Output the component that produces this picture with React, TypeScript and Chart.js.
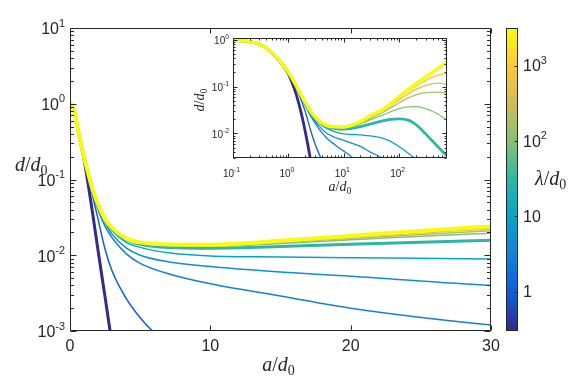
import React, { useEffect, useRef } from "react";
import { Chart, registerables } from "chart.js";

Chart.register(...registerables);

// ---------------- data ----------------
const aValues = [0, 0.1, 0.2, 0.3, 0.4, 0.6, 0.8, 1, 1.3, 1.6, 2, 2.5, 3, 4, 5, 7, 10, 15, 20, 30, 50, 70, 100, 150, 200, 300, 500, 730];

const lambdaValues = [0.31, 1, 3, 5, 10, 30, 100, 200, 500, 1000, 3200];

const dLambda0p31 = [1, 0.97, 0.9, 0.8, 0.66, 0.42, 0.28, 0.185, 0.085, 0.037, 0.0115, 0.0028, 0.00066, null, null, null, null, null, null, null, null, null, null, null, null, null, null, null];
const dLambda1 = [1, 0.97, 0.9, 0.8, 0.66, 0.43, 0.285, 0.19, 0.105, 0.062, 0.03, 0.012, 0.0062, 0.0027, 0.0015, 0.00062, null, null, null, null, null, null, null, null, null, null, null, null];
const dLambda3 = [1, 0.97, 0.9, 0.8, 0.66, 0.43, 0.29, 0.195, 0.115, 0.068, 0.04, 0.024, 0.017, 0.0105, 0.0078, 0.0057, 0.0042, 0.0029, 0.002, 0.0012, 0.0006, null, null, null, null, null, null, null];
const dLambda5 = [1, 0.97, 0.9, 0.8, 0.66, 0.43, 0.29, 0.2, 0.118, 0.07, 0.042, 0.027, 0.019, 0.0125, 0.01, 0.0082, 0.0071, 0.006, 0.0053, 0.004, 0.003, 0.0022, 0.0015, null, null, null, null, null];
const dLambda10 = [1, 0.97, 0.9, 0.8, 0.66, 0.43, 0.29, 0.2, 0.12, 0.072, 0.045, 0.029, 0.021, 0.0148, 0.0127, 0.0108, 0.0098, 0.0095, 0.0093, 0.0089, 0.008, 0.0068, 0.0052, 0.0037, 0.0028, 0.0017, null, null];
const dLambda30 = [1, 0.97, 0.9, 0.8, 0.66, 0.43, 0.29, 0.2, 0.12, 0.073, 0.046, 0.03, 0.022, 0.016, 0.014, 0.0127, 0.0124, 0.013, 0.014, 0.0158, 0.0185, 0.02, 0.0205, 0.019, 0.0155, 0.0098, 0.0052, 0.0033];
const dLambda100 = [1, 0.97, 0.9, 0.8, 0.66, 0.43, 0.29, 0.2, 0.12, 0.074, 0.047, 0.03, 0.0225, 0.0163, 0.0145, 0.0133, 0.0131, 0.0143, 0.016, 0.0195, 0.0245, 0.029, 0.034, 0.037, 0.0372, 0.034, 0.026, 0.019];
const dLambda200 = [1, 0.97, 0.9, 0.8, 0.66, 0.43, 0.29, 0.2, 0.12, 0.075, 0.047, 0.03, 0.0227, 0.0165, 0.0146, 0.0135, 0.0133, 0.0147, 0.0168, 0.021, 0.028, 0.035, 0.045, 0.058, 0.066, 0.074, 0.076, 0.071];
const dLambda500 = [1, 0.97, 0.9, 0.8, 0.66, 0.43, 0.29, 0.2, 0.12, 0.075, 0.047, 0.03, 0.0228, 0.0166, 0.0147, 0.0137, 0.0135, 0.015, 0.0172, 0.0222, 0.03, 0.039, 0.052, 0.071, 0.087, 0.105, 0.118, 0.11];
const dLambda1000 = [1, 0.97, 0.9, 0.8, 0.66, 0.43, 0.29, 0.2, 0.12, 0.075, 0.047, 0.03, 0.0229, 0.0166, 0.0147, 0.0138, 0.0136, 0.0152, 0.0175, 0.023, 0.031, 0.041, 0.057, 0.08, 0.1, 0.135, 0.175, 0.19];
const dLambda3200 = [1, 0.97, 0.9, 0.8, 0.66, 0.43, 0.29, 0.2, 0.12, 0.075, 0.047, 0.03, 0.023, 0.0167, 0.0148, 0.0139, 0.0138, 0.0155, 0.018, 0.024, 0.032, 0.043, 0.061, 0.088, 0.113, 0.16, 0.24, 0.33];

const curveValues = [dLambda0p31, dLambda1, dLambda3, dLambda5, dLambda10, dLambda30, dLambda100, dLambda200, dLambda500, dLambda1000, dLambda3200];
const thickLambdas = [0.31, 30, 3200];

const colorbarRange = [0.31, 3200];
const colorbarTicks = [1, 10, 100, 1000];
const mainXRange = [0, 30];
const mainYRange = [1e-3, 10];
const mainXTicks = [0, 10, 20, 30];
const mainYTickExps = [-3, -2, -1, 0, 1];
const insetXRange = [0.1, 730];
const insetYRange = [0.003, 1.08];
const insetXTickExps = [-1, 0, 1, 2];
const insetYTickExps = [-2, -1, 0];

// ---------------- styling helpers ----------------
const AXIS = "#262626";
const SANS = "'Liberation Sans', Arial, Helvetica, sans-serif";
const SERIF = "'Liberation Serif', 'DejaVu Serif', serif";
const PARULA = ["#352A87", "#0F5CDD", "#1481D6", "#06A4CA", "#2EB7A4", "#87BF77", "#D1BB59", "#FEC832", "#F9FB0E"];

function hexRgb(h: string) {
  return [parseInt(h.slice(1, 3), 16), parseInt(h.slice(3, 5), 16), parseInt(h.slice(5, 7), 16)];
}
function parula(t: number) {
  const tt = Math.max(0, Math.min(1, t));
  const s = tt * (PARULA.length - 1);
  const i = Math.min(PARULA.length - 2, Math.floor(s));
  const f = s - i;
  const a = hexRgb(PARULA[i]);
  const b = hexRgb(PARULA[i + 1]);
  const c = a.map((v, k) => Math.round(v + (b[k] - v) * f));
  return `rgb(${c[0]},${c[1]},${c[2]})`;
}
function lambdaColor(l: number) {
  const lo = Math.log10(colorbarRange[0]);
  const hi = Math.log10(colorbarRange[1]);
  return parula((Math.log10(l) - lo) / (hi - lo));
}

function drawPow(ctx: CanvasRenderingContext2D, exp: string, x: number, y: number, size: number, align: string) {
  ctx.font = `${size}px ${SANS}`;
  const w1 = ctx.measureText("10").width;
  const ss = size * 0.68;
  ctx.font = `${ss}px ${SANS}`;
  const w2 = ctx.measureText(exp).width;
  const total = w1 + w2;
  const x0 = align === "right" ? x - total : align === "center" ? x - total / 2 : x;
  ctx.textAlign = "left";
  ctx.textBaseline = "middle";
  ctx.font = `${size}px ${SANS}`;
  ctx.fillText("10", x0, y);
  ctx.font = `${ss}px ${SANS}`;
  ctx.fillText(exp, x0 + w1, y - size * 0.4);
}
function expStr(e: number) {
  return e < 0 ? "-" + Math.abs(e) : String(e);
}

function drawRatio(ctx: CanvasRenderingContext2D, num: string, x: number, y: number, size: number, align: string) {
  const parts = [
    { t: num, f: `italic ${size}px ${SERIF}`, dy: 0 },
    { t: "/", f: `${size}px ${SERIF}`, dy: 0 },
    { t: "d", f: `italic ${size}px ${SERIF}`, dy: 0 },
    { t: "0", f: `${size * 0.7}px ${SERIF}`, dy: size * 0.2 },
  ];
  let total = 0;
  const widths = parts.map((p) => {
    ctx.font = p.f;
    const w = ctx.measureText(p.t).width;
    total += w;
    return w;
  });
  let cx = align === "center" ? x - total / 2 : align === "right" ? x - total : x;
  ctx.textAlign = "left";
  ctx.textBaseline = "alphabetic";
  parts.forEach((p, i) => {
    ctx.font = p.f;
    ctx.fillText(p.t, cx, y + p.dy);
    cx += widths[i];
  });
}

function logTickValues(minV: number, maxV: number) {
  const out: { v: number; major: boolean }[] = [];
  for (let e = Math.floor(Math.log10(minV)) - 1; e <= Math.ceil(Math.log10(maxV)); e++) {
    for (let m = 1; m <= 9; m++) {
      const v = m * Math.pow(10, e);
      if (v >= minV * 0.9999 && v <= maxV * 1.0001) out.push({ v, major: m === 1 });
    }
  }
  return out;
}

// ---------------- plugins ----------------
const mainDecor = {
  id: "mainDecor",
  afterDatasetsDraw(chart: any) {
    const { ctx, chartArea: ca, scales } = chart;
    const xs = scales.x;
    const ys = scales.y;
    const cb = scales.cb;
    ctx.save();
    ctx.strokeStyle = AXIS;
    ctx.fillStyle = AXIS;
    ctx.lineWidth = 1;
    const L = Math.round(ca.left) + 0.5;
    const R = Math.round(ca.right) - 0.5;
    const T = Math.round(ca.top) + 0.5;
    const B = Math.round(ca.bottom) - 0.5;
    ctx.beginPath();
    ctx.rect(L, T, R - L, B - T);
    ctx.stroke();

    ctx.beginPath();
    for (const t of logTickValues(mainYRange[0], mainYRange[1])) {
      const py = Math.round(ys.getPixelForValue(t.v)) + 0.5;
      const len = t.major ? 6 : 3.5;
      ctx.moveTo(L, py);
      ctx.lineTo(L + len, py);
      ctx.moveTo(R, py);
      ctx.lineTo(R - len, py);
    }
    for (const v of mainXTicks) {
      const px = Math.round(xs.getPixelForValue(v)) + 0.5;
      ctx.moveTo(px, B);
      ctx.lineTo(px, B - 5);
      ctx.moveTo(px, T);
      ctx.lineTo(px, T + 5);
    }
    ctx.stroke();

    for (const e of mainYTickExps) {
      const py = ys.getPixelForValue(Math.pow(10, e));
      drawPow(ctx, expStr(e), 65, py + 2, 16, "right");
    }
    ctx.font = `16px ${SANS}`;
    ctx.textAlign = "center";
    ctx.textBaseline = "middle";
    for (const v of mainXTicks) {
      ctx.fillText(String(v), xs.getPixelForValue(v), 347);
    }

    drawRatio(ctx, "a", (ca.left + ca.right) / 2 - 2, 371, 20, "center");
    drawRatio(ctx, "d", 15, 171, 20, "left");

    // colorbar
    const cx0 = 506;
    const cw = 12;
    const top = cb.top;
    const bot = cb.bottom;
    const g = ctx.createLinearGradient(0, bot, 0, top);
    PARULA.forEach((c, i) => g.addColorStop(i / (PARULA.length - 1), c));
    ctx.fillStyle = g;
    ctx.fillRect(cx0, top, cw, bot - top);
    ctx.strokeStyle = AXIS;
    ctx.strokeRect(cx0 + 0.5, Math.round(top) + 0.5, cw - 1, Math.round(bot - top) - 1);
    ctx.fillStyle = AXIS;
    ctx.beginPath();
    for (const v of colorbarTicks) {
      const py = Math.round(cb.getPixelForValue(v)) + 0.5;
      ctx.moveTo(cx0 + cw - 0.5, py);
      ctx.lineTo(cx0 + cw - 3.5, py);
    }
    ctx.stroke();
    for (const v of colorbarTicks) {
      const py = cb.getPixelForValue(v) + 1;
      if (v < 100) {
        ctx.font = `16px ${SANS}`;
        ctx.textAlign = "left";
        ctx.textBaseline = "middle";
        ctx.fillText(String(v), 523, py);
      } else {
        drawPow(ctx, String(Math.round(Math.log10(v))), 523, py, 16, "left");
      }
    }
    drawRatio(ctx, "λ", 535, 185, 20, "left");
    ctx.restore();
  },
};

const insetDecor = {
  id: "insetDecor",
  afterDatasetsDraw(chart: any) {
    const { ctx, chartArea: ca, scales } = chart;
    const xs = scales.x;
    const ys = scales.y;
    ctx.save();
    ctx.strokeStyle = AXIS;
    ctx.fillStyle = AXIS;
    ctx.lineWidth = 1;
    const L = Math.round(ca.left) + 0.5;
    const R = Math.round(ca.right) - 0.5;
    const T = Math.round(ca.top) + 0.5;
    const B = Math.round(ca.bottom) - 0.5;
    ctx.beginPath();
    ctx.rect(L, T, R - L, B - T);
    ctx.stroke();
    ctx.beginPath();
    for (const t of logTickValues(insetYRange[0], insetYRange[1])) {
      const py = Math.round(ys.getPixelForValue(t.v)) + 0.5;
      const len = t.major ? 4 : 2;
      ctx.moveTo(L, py);
      ctx.lineTo(L + len, py);
      ctx.moveTo(R, py);
      ctx.lineTo(R - len, py);
    }
    for (const t of logTickValues(insetXRange[0], insetXRange[1])) {
      const px = Math.round(xs.getPixelForValue(t.v)) + 0.5;
      const len = t.major ? 4 : 2;
      ctx.moveTo(px, B);
      ctx.lineTo(px, B - len);
      ctx.moveTo(px, T);
      ctx.lineTo(px, T + len);
    }
    ctx.stroke();
    for (const e of insetYTickExps) {
      const py = ys.getPixelForValue(Math.pow(10, e));
      drawPow(ctx, expStr(e), ca.left - 4, py + 1.5, 10, "right");
    }
    for (const e of insetXTickExps) {
      const px = xs.getPixelForValue(Math.pow(10, e));
      drawPow(ctx, expStr(e), px - 1.5, ca.bottom + 16, 10, "center");
    }
    drawRatio(ctx, "a", (ca.left + ca.right) / 2, ca.bottom + 33, 14, "center");
    ctx.translate(ca.left - 29, (ca.top + ca.bottom) / 2 + 2);
    ctx.rotate(-Math.PI / 2);
    drawRatio(ctx, "d", 0, 0, 14, "center");
    ctx.restore();
  },
};

function buildDatasets(inset: boolean) {
  const order = lambdaValues.map((_, i) => i).reverse();
  return order.map((i) => {
    const lam = lambdaValues[i];
    const vals = curveValues[i];
    const pts: { x: number; y: number | null }[] = [];
    aValues.forEach((a, k) => {
      if (inset && a <= 0) return;
      pts.push({ x: a, y: vals[k] });
    });
    const thick = thickLambdas.includes(lam);
    const w = thick ? (lam === 3200 ? (inset ? 3.5 : 4) : inset ? 2.8 : 3) : inset ? 1.3 : 1.5;
    return {
      label: `λ/d0 = ${lam}`,
      data: pts,
      borderColor: lambdaColor(lam),
      backgroundColor: lambdaColor(lam),
      borderWidth: w,
      pointRadius: 0,
      fill: false,
      spanGaps: false,
      cubicInterpolationMode: "monotone" as const,
    };
  });
}

export default function App() {
  const mainRef = useRef<HTMLCanvasElement>(null);
  const insetRef = useRef<HTMLCanvasElement>(null);

  useEffect(() => {
    const main = new Chart(mainRef.current as HTMLCanvasElement, {
      type: "line",
      data: { datasets: buildDatasets(false) as any },
      options: {
        responsive: false,
        animation: false,
        devicePixelRatio: 1,
        events: [],
        layout: { padding: { left: 70, top: 28, right: 90, bottom: 47 } },
        plugins: { legend: { display: false }, tooltip: { enabled: false } },
        scales: {
          x: { type: "linear", min: mainXRange[0], max: mainXRange[1], display: false },
          y: { type: "logarithmic", min: mainYRange[0], max: mainYRange[1], display: false },
          cb: { type: "logarithmic", axis: "y", position: "right", min: colorbarRange[0], max: colorbarRange[1], display: false },
        },
      } as any,
      plugins: [mainDecor],
    });
    const inset = new Chart(insetRef.current as HTMLCanvasElement, {
      type: "line",
      data: { datasets: buildDatasets(true) as any },
      options: {
        responsive: false,
        animation: false,
        devicePixelRatio: 1,
        events: [],
        layout: { padding: { left: 53, top: 18, right: 23, bottom: 42 } },
        plugins: { legend: { display: false }, tooltip: { enabled: false } },
        scales: {
          x: { type: "logarithmic", min: insetXRange[0], max: insetXRange[1], display: false },
          y: { type: "logarithmic", min: insetYRange[0], max: insetYRange[1], display: false },
        },
      } as any,
      plugins: [insetDecor],
    });
    return () => {
      main.destroy();
      inset.destroy();
    };
  }, []);

  return (
    <div style={{ position: "absolute", left: 0, top: 0, width: 581, height: 378, background: "#fff" }}>
      <canvas ref={mainRef} width={581} height={378} style={{ position: "absolute", left: 0, top: 0 }} />
      <canvas ref={insetRef} width={290} height={180} style={{ position: "absolute", left: 180, top: 20 }} />
    </div>
  );
}
